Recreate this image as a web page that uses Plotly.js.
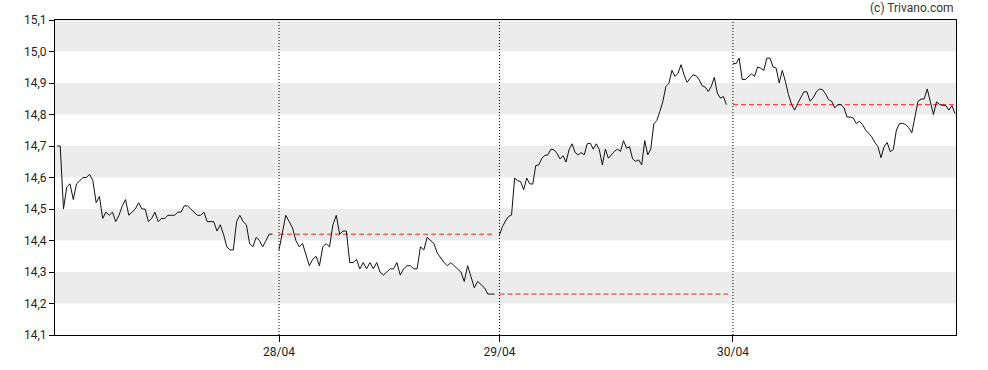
<!DOCTYPE html>
<html>
<head>
<meta charset="utf-8">
<script src="https://cdn.plot.ly/plotly-3.0.1.min.js"></script>
<style>html,body{margin:0;padding:0;background:#fff;}#chart{width:988px;height:370px;}</style>
</head>
<body>
<div id="chart"></div>
<script>
// ---- data ----
const dayLabels = ['27/04', '28/04', '29/04', '30/04'];
// trading-slot index of each session's open and close
const sessionOpen  = [0, 68, 135.5, 207];
const sessionClose = [66, 134, 205, 275];

const day1 = [14.70,14.70,14.50,14.57,14.58,14.53,14.58,14.59,14.60,14.60,14.61,14.59,14.52,14.54,14.47,14.49,14.48,14.49,14.46,14.48,14.51,14.53,14.48,14.49,14.50,14.52,14.50,14.50,14.46,14.47,14.49,14.46,14.47,14.47,14.48,14.48,14.48,14.49,14.49,14.51,14.51,14.50,14.49,14.48,14.48,14.49,14.46,14.46,14.46,14.43,14.45,14.42,14.38,14.37,14.37,14.46,14.48,14.46,14.45,14.39,14.38,14.41,14.40,14.38,14.40,14.42,14.42];
const day2 = [14.37,14.425,14.48,14.46,14.44,14.40,14.38,14.39,14.355,14.32,14.34,14.35,14.32,14.38,14.39,14.38,14.45,14.48,14.42,14.43,14.43,14.33,14.33,14.34,14.31,14.33,14.31,14.33,14.31,14.33,14.30,14.29,14.30,14.31,14.31,14.33,14.29,14.31,14.32,14.32,14.31,14.31,14.38,14.37,14.41,14.40,14.39,14.36,14.345,14.33,14.32,14.33,14.32,14.31,14.30,14.27,14.32,14.285,14.25,14.27,14.26,14.25,14.23,14.23,14.23];
const day3 = [14.418,14.444,14.462,14.476,14.481,14.598,14.590,14.587,14.561,14.598,14.580,14.579,14.638,14.640,14.661,14.670,14.672,14.690,14.688,14.677,14.659,14.669,14.649,14.688,14.707,14.679,14.672,14.679,14.672,14.707,14.709,14.690,14.707,14.688,14.640,14.690,14.661,14.672,14.683,14.690,14.683,14.717,14.693,14.698,14.659,14.651,14.656,14.640,14.717,14.672,14.690,14.770,14.781,14.810,14.841,14.889,14.899,14.940,14.921,14.931,14.958,14.926,14.902,14.915,14.926,14.923,14.910,14.891,14.887,14.873,14.889,14.918,14.868,14.852,14.857,14.831];
const day4 = [14.963,14.961,14.979,14.911,14.911,14.921,14.929,14.921,14.951,14.947,14.940,14.979,14.979,14.951,14.947,14.900,14.940,14.905,14.863,14.832,14.814,14.835,14.856,14.872,14.872,14.842,14.853,14.871,14.881,14.879,14.866,14.847,14.842,14.821,14.831,14.832,14.821,14.792,14.792,14.789,14.771,14.779,14.768,14.751,14.740,14.729,14.711,14.698,14.663,14.698,14.711,14.682,14.689,14.751,14.771,14.772,14.768,14.758,14.742,14.793,14.842,14.849,14.849,14.881,14.835,14.800,14.840,14.832,14.829,14.829,14.814,14.828,14.803];
const yTicks = [14.1,14.2,14.3,14.4,14.5,14.6,14.7,14.8,14.9,15.0,15.1];

// ---- build ----
const days = [day1, day2, day3, day4];
const traces = [];
days.forEach((vals, d) => {
  if (d > 0) {
    const prev = days[d - 1][days[d - 1].length - 1];
    const xEnd = d < days.length - 1 ? sessionOpen[d + 1] - 1.5 : sessionClose[d];
    traces.push({x: [sessionOpen[d], xEnd], y: [prev, prev], type: 'scatter', mode: 'lines',
      line: {color: '#ff1a1a', width: 1, dash: '5px,3px'}, hoverinfo: 'skip', showlegend: false});
  }
});
days.forEach((vals, d) => {
  const n = vals.length;
  const span = sessionClose[d] - sessionOpen[d];
  const xs = vals.map((_, i) => sessionOpen[d] + i * span / (n - 1));
  traces.push({x: xs, y: vals, type: 'scatter', mode: 'lines',
    line: {color: '#111', width: 1}, hoverinfo: 'skip', showlegend: false});
});

const shapes = [];
for (let i = 1; i < yTicks.length; i += 2) {
  shapes.push({type: 'rect', xref: 'paper', yref: 'y', x0: 0, x1: 1,
    y0: yTicks[i], y1: yTicks[i + 1] !== undefined ? yTicks[i + 1] : yTicks[i],
    fillcolor: '#ececec', line: {width: 0}, layer: 'below'});
}
for (let d = 1; d < dayLabels.length; d++) {
  shapes.push({type: 'line', xref: 'x', yref: 'paper', x0: sessionOpen[d], x1: sessionOpen[d], y0: 0, y1: 1,
    line: {color: '#000', width: 1, dash: '1px,2px'}, layer: 'above'});
}

const layout = {
  width: 988, height: 370,
  margin: {l: 55, r: 32, t: 20, b: 35},
  paper_bgcolor: '#fff', plot_bgcolor: '#fff',
  separators: ', ',
  font: {family: 'Roboto, Arial, sans-serif', size: 12, color: '#222'},
  showlegend: false,
  xaxis: {
    range: [-0.6, 275.3], showgrid: false, zeroline: false,
    tickmode: 'array', tickvals: sessionOpen.slice(1), ticktext: dayLabels.slice(1),
    ticks: 'outside', ticklen: 6, tickcolor: '#000', tickwidth: 1,
    showline: true, linecolor: '#000', linewidth: 1, mirror: true,
    tickfont: {size: 12, color: '#222'}
  },
  yaxis: {
    range: [14.1, 15.1], showgrid: false, zeroline: false,
    tickmode: 'array', tickvals: yTicks, ticktext: yTicks.map(v => v.toFixed(1).replace('.', ',')),
    ticks: 'outside', ticklen: 5, tickcolor: '#000', tickwidth: 1,
    showline: true, linecolor: '#000', linewidth: 1, mirror: true,
    tickfont: {size: 12, color: '#222'}
  },
  shapes: shapes,
  annotations: [{text: '(c) Trivano.com', xref: 'paper', yref: 'paper', x: 1, y: 1,
    xanchor: 'right', yanchor: 'bottom', yshift: 3, showarrow: false,
    font: {size: 12, color: '#333'}}]
};

Plotly.newPlot('chart', traces, layout, {staticPlot: true, displayModeBar: false});
</script>
</body>
</html>
